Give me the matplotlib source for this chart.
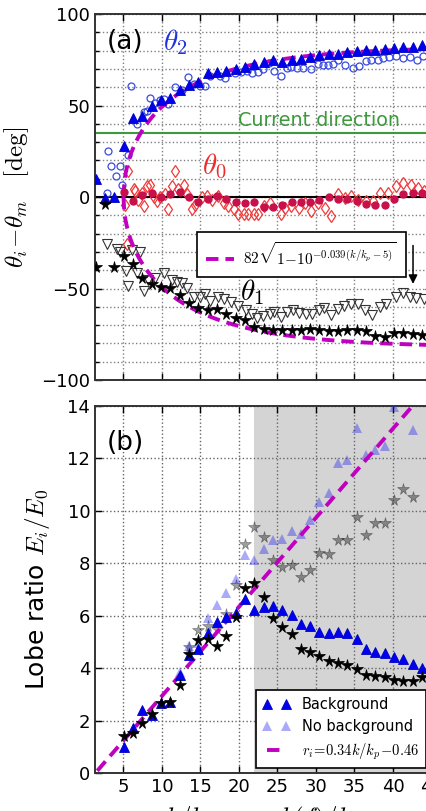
import matplotlib
matplotlib.use("Agg")
import matplotlib.pyplot as plt
import numpy as np
from matplotlib.ticker import MultipleLocator

plt.rcParams['mathtext.fontset'] = 'cm'
plt.rcParams['font.family'] = ['DejaVu Sans']

# ---------------- data ----------------
# k/k_p sampling of the "background" series (n = 1..36)
k = [1.41, 2.62, 3.83, 5.04, 6.25, 7.46, 8.67, 9.88, 11.09, 12.30, 13.51, 14.72,
     15.93, 17.14, 18.35, 19.56, 20.77, 21.98, 23.19, 24.40, 25.61, 26.82, 28.03,
     29.24, 30.45, 31.66, 32.87, 34.08, 35.29, 36.50, 37.71, 38.92, 40.13, 41.34,
     42.55, 43.76]

theta2_bg = [9.6, -0.5, 0, 27.8, 43, 44, 49.5, 53, 54, 58.5, 61, 63, 68, 68.2, 69.1,
             70.1, 71.0, 72.8, 73.7, 74.6, 73.5, 75.0, 75.5, 76.4, 77.7, 78.3, 78.3,
             79.2, 79.7, 80.1, 80.5, 81.0, 81.6, 81.9, 81.9, 82.8]
theta1_bg = [-38, -4, -38, -32.5, -36.5, -44.5, -47.4, -49, -49.6, -53.3, -58, -60.5,
             -61.6, -61.1, -63.8, -66, -67.1, -70.8, -72, -72.6, -72.6, -72.6, -72.6,
             -72, -72.6, -73.1, -73.1, -72.6, -72.6, -73.1, -75.7, -76.3, -74.4, -74.4,
             -74.8, -75.2]
theta0_bg = [3, -2, 1, 2, 0, 1.5, 2.5, 0, -3, -1, 0.5, -1, -3, -3.5, -3, -5.5, -5.5,
             -4.5, -3, -3, -3, -1.5, 0, -1, -1, -2, -4, -4.5, -4.5, -1, 1.5, 2, 2]  # n=4..36

x2_nobg = [2.8, 3.0, 3.4, 4.0, 4.55, 4.8, 5.6, 6.0, 6.7, 7.7, 8.0, 8.4, 9.1, 9.7, 10.3,
           10.8, 11.7, 12.6, 13.4, 14.1, 14.9, 15.6, 16.2, 17.5, 18.2, 19.5, 20.3, 21.0,
           21.7, 22.5, 23.1, 23.9, 24.5, 25.4, 26.2, 26.8, 27.5, 28.3, 29.4, 30.3, 30.9,
           31.6, 32.2, 32.9, 33.8, 34.8, 35.6, 36.5, 37.2, 38.0, 38.7, 39.5, 40.4, 41.3,
           42.2, 43.1, 43.9]
theta2_nobg = [2, 25, 17, 11.5, 17, 6.3, 23, 60.5, 40, 46.3, 47, 54, 51.5, 53, 53.5, 51,
               60, 58.5, 65.5, 62, 60.6, 60.6, 66, 66, 65, 68, 68.4, 68.6, 67.7, 68.2, 70,
               73, 68.6, 66, 70.6, 71, 70.6, 70.6, 70, 72.8, 72.4, 72.4, 72.8, 75.1, 72.4,
               70.6, 71.5, 74.2, 74.6, 75.1, 75.7, 76.4, 77, 75.7, 76.4, 75.1, 77]

x0_nobg = [5.2, 5.5, 5.6, 6.3, 6.5, 6.9, 7.4, 7.7, 8.0, 8.4, 8.9, 9.3, 9.7, 10.4, 10.8,
           11.3, 11.7, 12.1, 12.8, 13.2, 13.9, 14.3, 15.2, 15.8, 16.5, 17.3, 18.0, 18.6,
           19.3, 19.9, 20.6, 21.2, 21.9, 22.5, 23.2, 24.0, 25.4, 26.0, 26.8, 27.8, 28.6,
           29.4, 30.3, 31.2, 32.0, 32.9, 33.8, 34.6, 35.5, 36.5, 37.4, 38.3, 39.4, 40.4,
           41.3, 42.4, 43.2, 44.0]
theta0_nobg = [-4.1, -25.6, 14, 4.1, 3.2, -1.4, 2.3, -5, 5.9, 6.8, 0, -2.3, 0, 1.5, -6.3,
               5.9, 14.1, 4.1, 6.8, 1.5, -6.3, -4.1, 0, 0.5, -1.4, 0.5, -3.2, -5, -6.8,
               -9.2, -9.2, -9.2, -9.2, -9.2, -5, -3.2, -9.2, -6, -5, -6, -3.2, -7.7, -3.2,
               -5.9, -10.5, 1.7, -0.8, 0.5, -1.9, -2.3, -2.3, 2.3, 2.3, 5.9, 7.7, 6.8, 5, 3.2]

x1_nobg = [2.9, 4.2, 4.5, 5.3, 5.6, 6.1, 6.7, 7.1, 7.6, 8.2, 9.1, 10.2, 11.3, 11.9, 12.6,
           13.2, 14.1, 14.9, 15.6, 16.2, 17.3, 18.1, 19.0, 19.9, 20.9, 21.7, 22.3, 23.1,
           24.0, 24.6, 25.5, 26.2, 27.0, 27.8, 28.7, 29.5, 30.4, 31.1, 32.0, 32.9, 33.7,
           34.6, 35.5, 36.3, 37.3, 38.3, 39.1, 40.4, 41.3, 42.2, 43.0, 44.0]
theta1_nobg = [-25.6, -28.3, -30.2, -40.2, -48.9, -29.2, -41.6, -30.2, -51.1, -45.6, -44,
               -41.6, -45.6, -46.5, -47.1, -49.6, -54.8, -54.8, -52.9, -56.6, -54.8, -55.6,
               -57.5, -59.8, -62, -63.8, -66, -64.9, -63.8, -62.7, -65.7, -62.7, -62, -63.3,
               -63.8, -63.8, -62, -60.5, -64.7, -61, -59.8, -58.7, -58.4, -62, -64.7, -60.2,
               -58.7, -54.8, -52.6, -54.8, -55, -55.6]

# lobe ratios (n = 4..36 for background)
r2_bg = [1.0, 1.7, 2.4, 2.2, 2.66, 2.72, 3.74, 4.5, 4.72, 5.33, 5.77, 5.95, 6.11, 6.62,
         6.22, 6.33, 6.37, 6.22, 6.03, 5.69, 5.61, 5.39, 5.33, 5.37, 5.33, 5.10, 4.72,
         4.63, 4.59, 4.44, 4.34, 4.16, 4.0]
r1_bg = [1.42, 1.51, 1.92, 2.25, 2.66, 2.72, 3.36, 4.55, 5.06, 5.1, 4.84, 5.22, 5.96,
         7.04, 7.26, 6.7, 5.9, 5.57, 5.3, 4.72, 4.61, 4.45, 4.27, 4.2, 4.11, 3.96, 3.75,
         3.71, 3.67, 3.53, 3.52, 3.52, 3.66]
x_r2_nobg = [12.30, 13.51, 14.72, 15.93, 17.14, 18.35, 19.56, 20.77, 21.98, 23.19, 24.40,
             25.61, 26.82, 28.03, 29.24, 30.45, 31.66, 32.87, 34.08, 35.29, 36.50, 37.71,
             38.92, 40.13, 42.55]
r2_nobg = [3.86, 4.84, 4.95, 5.9, 6.4, 6.88, 7.39, 8.32, 8.13, 8.54, 8.87, 8.92, 9.24,
           9.11, 9.66, 10.32, 10.68, 11.82, 11.95, 13.16, 12.14, 12.33, 12.48, 13.95, 13.1]
x_r1_nobg = [13.51, 14.72, 15.93, 17.14, 18.35, 19.56, 20.77, 21.98, 23.19, 24.40, 25.61,
             26.82, 28.03, 29.24, 30.45, 31.66, 32.87, 34.08, 35.29, 36.50, 37.71, 38.92,
             40.13, 41.34, 42.55]
r1_nobg = [4.82, 5.46, 5.6, 5.5, 6.05, 7.18, 8.74, 9.37, 9.02, 8.13, 7.87, 7.94, 7.49,
           7.75, 8.39, 8.36, 8.87, 8.89, 9.76, 9.08, 9.53, 9.53, 10.42, 10.83, 10.52]

current_dir = 35
amp, coef, k0 = 82, 0.039, 5
slope, icpt = 0.34, -0.46
shade_start = 22

# ---------------- figure ----------------
fig = plt.figure(figsize=(4.26, 8.11), dpi=100)
W, H = 426.0, 811.0
left = 95 / W
width = 336.5 / W
ax1 = fig.add_axes([left, (H - 380) / H, width, 366 / H])
ax2 = fig.add_axes([left, (H - 773) / H, width, 367 / H])

magenta = '#c000c0'
dash = (3.2, 1.8)

def style(ax):
    ax.set_xlim(1.3, 45)
    ax.xaxis.set_major_locator(MultipleLocator(5))
    ax.tick_params(which='both', direction='in', top=True, right=True,
                   labelsize=13, width=1)
    ax.tick_params(which='major', length=5)
    ax.tick_params(which='minor', length=3)
    for s in ax.spines.values():
        s.set_linewidth(1.4)
        s.set_color('#333333')

# ---- panel (a) ----
style(ax1)
ax1.set_ylim(-100, 100)
ax1.yaxis.set_major_locator(MultipleLocator(50))
ax1.yaxis.set_minor_locator(MultipleLocator(10))
ax1.grid(True, which='both', axis='y', ls=':', color='0.5', lw=1)
ax1.grid(True, which='major', axis='x', ls=':', color='0.5', lw=1)
ax1.set_axisbelow(True)
ax1.tick_params(labelbottom=False)

ax1.axhline(current_dir, color='#3c9a3c', lw=1.5, zorder=1)
ax1.axhline(0, color='k', lw=1.5, zorder=1)
ax1.text(19.9, current_dir + 1.5, 'Current direction', color='#3c9a3c',
         fontsize=13.8, va='bottom', ha='left')

kk = np.linspace(k0, 45, 400)
fit = amp * np.sqrt(1 - 10 ** (-coef * (kk - k0)))

ax1.plot(x2_nobg, theta2_nobg, 'o', ms=5, mfc='none', mec='#3a4ae0', mew=0.9, zorder=3)
ax1.plot(x0_nobg, theta0_nobg, 'd', ms=6, mfc='none', mec='#f03a3a', mew=0.9, zorder=3)
ax1.plot(x1_nobg, theta1_nobg, 'v', ms=6.5, mfc='none', mec='#333333', mew=0.8, zorder=3)
ln, = ax1.plot(kk, fit, color=magenta, lw=2.8, dashes=dash, zorder=4,
               label=r'$82\sqrt{1\!-\!10^{-0.039(k/k_p-5)}}$')
ax1.plot(kk, -fit, color=magenta, lw=2.8, dashes=dash, zorder=4)
ax1.plot(k, theta2_bg, '^', ms=6.5, color='#0000f0', mec='#0000c0', mew=0.6, zorder=5)
ax1.plot(k[3:], theta0_bg, 'o', ms=5, color='#c8104a', mec='#c8104a', zorder=5)
ax1.plot(k, theta1_bg, '*', ms=8.5, color='k', mew=0.5, zorder=5)

leg1 = ax1.legend(handles=[ln], loc='upper left', bbox_to_anchor=(0.304, 0.404),
                  fontsize=11, frameon=True, fancybox=False, edgecolor='k',
                  borderpad=0.6, handlelength=1.8, handletextpad=0.6,
                  borderaxespad=0)
leg1.get_frame().set_linewidth(1.2)
leg1.get_frame().set_alpha(1)

ax1.text(2.85, 84.6, '(a)', fontsize=19, va='center', ha='left')
ax1.text(10.1, 84.5, r'$\theta_2$', color='#2233dd', fontsize=21, va='center', ha='left')
ax1.text(15.2, 17.0, r'$\theta_0$', color='#ee2a2a', fontsize=21, va='center', ha='left')
ax1.text(20.1, -52.0, r'$\theta_1$', color='k', fontsize=21, va='center', ha='left')
ax1.annotate('', xy=(42.6, -47.5), xytext=(42.6, -26.5), zorder=8,
             arrowprops=dict(arrowstyle='-|>', color='k', lw=1.1,
                             mutation_scale=13, shrinkA=0, shrinkB=0))

ax1.set_ylabel(r'$\theta_i\!-\!\theta_m\quad\mathrm{[deg]}$', fontsize=18)
ax1.yaxis.set_label_coords(-0.19, 0.5)

# ---- panel (b) ----
style(ax2)
ax2.set_ylim(0, 14)
ax2.yaxis.set_major_locator(MultipleLocator(2))
ax2.grid(True, which='major', ls=':', color='0.4', lw=1)
ax2.axvspan(shade_start, 50, color='#d4d4d4', zorder=0, lw=0)
ax2.set_axisbelow(True)
for gl in ax2.get_xgridlines() + ax2.get_ygridlines():
    gl.set_zorder(0.5)

kb = k[3:]
ax2.plot(x_r1_nobg, r1_nobg, '*', ms=8.5, color='k', alpha=0.38, mew=0.5, zorder=3)
h_nb, = ax2.plot(x_r2_nobg, r2_nobg, '^', ms=7, color='#2020f0', alpha=0.38, mew=0,
                 zorder=3, label='No background')
h_bg, = ax2.plot(kb, r2_bg, '^', ms=7, color='#0000f0', mec='#0000c0', mew=0.6,
                 zorder=5, label='Background')
ax2.plot(kb, r1_bg, '*', ms=8.5, color='k', mew=0.5, zorder=5)
kl = np.linspace(1.6, 45, 100)
h_ln, = ax2.plot(kl, slope * kl + icpt, color=magenta, lw=2.8, dashes=dash, zorder=4,
                 label=r'$r_i\!=\!0.34k/k_p\!-\!0.46$')

leg2 = ax2.legend(handles=[h_bg, h_nb, h_ln], loc='lower left',
                  bbox_to_anchor=(0.479, 0.013), fontsize=10.5, numpoints=2,
                  frameon=True, fancybox=False, edgecolor='k', borderpad=0.45,
                  handlelength=1.9, handletextpad=0.8, labelspacing=0.5,
                  borderaxespad=0)
leg2.get_frame().set_linewidth(1.2)
leg2.get_frame().set_alpha(1)

ax2.text(2.85, 12.6, '(b)', fontsize=19, va='center', ha='left')
ax2.set_ylabel(r'Lobe ratio $E_i/E_0$', fontsize=18)
ax2.yaxis.set_label_coords(-0.128, 0.5)
ax2.set_xlabel(r'$k/k_p\quad\mathrm{or}\quad k(f)/k_p$', fontsize=18)
ax2.xaxis.set_label_coords(0.5, -0.085)

fig.savefig('out.png', dpi=100)
